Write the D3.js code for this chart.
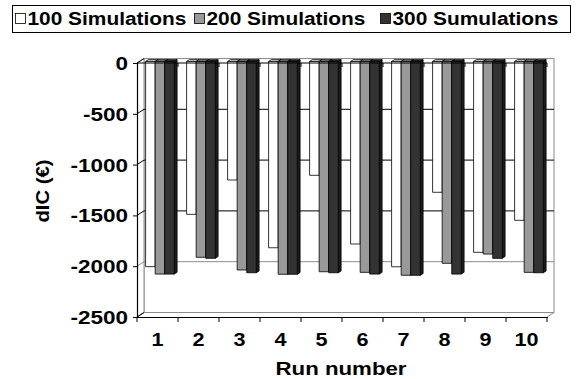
<!DOCTYPE html>
<html>
<head>
<meta charset="utf-8">
<script src="https://cdn.jsdelivr.net/npm/d3@7/dist/d3.min.js"></script>
<style>
  html, body { margin: 0; padding: 0; background: #fff; }
  svg { display: block; }
  text { font-family: "Liberation Sans", Arial, sans-serif; font-weight: bold; fill: #000; }
</style>
</head>
<body>
<svg id="chart" width="576" height="379"></svg>
<script>
// Run numbers on the category axis
const runs = ["1", "2", "3", "4", "5", "6", "7", "8", "9", "10"];
// Series names, shown in the legend
const seriesNames = ["100 Simulations", "200 Simulations", "300 Sumulations"];
// dIC values per run, one array per series
const sim100 = [-2020, -1505, -1167, -1834, -1121, -1797, -2021, -1288, -1879, -1564];
const sim200 = [-2093, -1928, -2053, -2095, -2070, -2076, -2105, -1987, -1896, -2076];
const sim300 = [-2093, -1938, -2080, -2095, -2080, -2093, -2105, -2093, -1938, -2080];
// Value axis ticks
const yTicks = [0, -500, -1000, -1500, -2000, -2500];
const yTickLabels = ["0", "-500", "-1000", "-1500", "-2000", "-2500"];

(function () {
const seriesValues = [sim100, sim200, sim300];
const fills = ["#ffffff", "#999999", "#333333"];
const sideFills = ["#d9d9d9", "#707070", "#1c1c1c"];
const topFills = ["#e6e6e6", "#808080", "#262626"];

const svg = d3.select("#chart");

// front plane of the 3-D box
const boxL = 137, boxR = 547, boxT = 63, boxB = 317;
// offset from front plane to back wall
const DX = 7, DY = -4.5;
// depth slab occupied by the columns (fraction of box depth)
const Z0 = 0.35, Z1 = 0.75;

const y = d3.scaleLinear().domain([-2500, 0]).range([boxB, boxT]);
const x0 = d3.scaleBand().domain(runs).range([boxL, boxR]).padding(0);
const bw = x0.bandwidth();
const gap = bw * 0.15;
const x1 = d3.scaleBand().domain(seriesNames).range([gap, bw - gap]).padding(0);

// ---- walls ----
const walls = svg.append("g");
// back wall
walls.append("rect")
  .attr("x", boxL + DX).attr("y", boxT + DY)
  .attr("width", boxR - boxL).attr("height", boxB - boxT)
  .attr("fill", "#fff").attr("stroke", "#8c8c8c").attr("stroke-width", 1);
// side wall outline
walls.append("path")
  .attr("d", `M${boxL},${boxT}L${boxL + DX},${boxT + DY}L${boxL + DX},${boxB + DY}L${boxL},${boxB}`)
  .attr("fill", "#fff").attr("stroke", "#8c8c8c").attr("stroke-width", 1);
// floor outline
walls.append("path")
  .attr("d", `M${boxL},${boxB}L${boxL + DX},${boxB + DY}L${boxR + DX},${boxB + DY}L${boxR},${boxB}`)
  .attr("fill", "none").attr("stroke", "#8c8c8c").attr("stroke-width", 1);

// gridlines on back and side walls
const grid = svg.append("g");
yTicks.filter(v => v !== 0 && v !== -2500).forEach(v => {
  const yy = y(v);
  const col = v === -2000 ? "#8c8c8c" : "#000";
  grid.append("path")
    .attr("d", `M${boxL},${yy}L${boxL + DX},${yy + DY}L${boxR + DX},${yy + DY}`)
    .attr("fill", "none").attr("stroke", col).attr("stroke-width", 1);
});
grid.append("path")
  .attr("d", `M${boxL},${y(-2500)}L${boxL + DX},${y(-2500) + DY}`)
  .attr("fill", "none").attr("stroke", "#000").attr("stroke-width", 1);

// ---- columns ----
const bars = svg.append("g");
const ox = DX * Z0, oy = DY * Z0;
const ddx = DX * (Z1 - Z0), ddy = DY * (Z1 - Z0);
runs.forEach((r, i) => {
  seriesNames.forEach((s, k) => {
    const v = seriesValues[k][i];
    const xl = x0(r) + x1(s) + ox;
    const xr = xl + x1.bandwidth();
    const yt = y(0) + oy;
    const yb = y(v) + oy;
    const g = bars.append("g").attr("stroke", "#000").attr("stroke-width", 0.8).attr("stroke-linejoin", "round");
    g.append("path")
      .attr("d", `M${xr},${yt}L${xr + ddx},${yt + ddy}L${xr + ddx},${yb + ddy}L${xr},${yb}Z`)
      .attr("fill", sideFills[k]);
    g.append("path")
      .attr("d", `M${xl},${yt}L${xl + ddx},${yt + ddy}L${xr + ddx},${yt + ddy}L${xr},${yt}Z`)
      .attr("fill", topFills[k]);
    g.append("rect")
      .attr("x", xl).attr("y", yt).attr("width", xr - xl).attr("height", yb - yt)
      .attr("fill", fills[k]);
  });
});

// ---- axes ----
// category axis line at zero with boundary ticks
const zeroAxis = svg.append("g");
zeroAxis.append("line")
  .attr("x1", boxL).attr("x2", boxR).attr("y1", y(0)).attr("y2", y(0))
  .attr("stroke", "#000").attr("stroke-width", 1.2);
zeroAxis.append("line")
  .attr("x1", boxL).attr("x2", boxL + DX).attr("y1", y(0)).attr("y2", y(0) + DY)
  .attr("stroke", "#000").attr("stroke-width", 1);
runs.forEach(r => {
  const xx = x0(r) + bw;
  zeroAxis.append("line")
    .attr("x1", xx).attr("x2", xx).attr("y1", y(0)).attr("y2", y(0) + 4)
    .attr("stroke", "#000").attr("stroke-width", 1);
});

// bottom category axis with labels
const xAxis = svg.append("g")
  .attr("transform", `translate(0,${boxB})`)
  .call(d3.axisBottom(x0).tickSize(0).tickPadding(0));
xAxis.select(".domain").attr("stroke", "#000").attr("stroke-width", 1.2);
xAxis.selectAll(".tick text")
  .attr("y", 0).attr("dy", null)
  .attr("transform", "translate(0,28.5) scale(1.2,1)")
  .style("font-size", "18px");
// boundary ticks on the bottom axis
x0.domain().forEach((r, i) => {
  const edges = i === 0 ? [x0(r), x0(r) + bw] : [x0(r) + bw];
  edges.forEach(xx => {
    svg.append("line")
      .attr("x1", xx).attr("x2", xx).attr("y1", boxB).attr("y2", boxB + 5)
      .attr("stroke", "#000").attr("stroke-width", 1);
  });
});

// value axis
const yAxis = svg.append("g")
  .attr("transform", `translate(${boxL},0)`)
  .call(d3.axisLeft(y).tickValues(yTicks).tickSize(4)
    .tickFormat((d, i) => yTickLabels[i]));
yAxis.select(".domain").attr("stroke", "#000").attr("stroke-width", 1.2);
yAxis.selectAll(".tick line").attr("stroke", "#000");
yAxis.selectAll(".tick text")
  .attr("x", 0).attr("dy", null).attr("y", 0)
  .attr("transform", "translate(-9,6.5) scale(1.25,1)")
  .style("font-size", "18px");

// axis titles
svg.append("text")
  .attr("x", 341).attr("y", 375)
  .attr("text-anchor", "middle")
  .style("font-size", "18px")
  .attr("textLength", 131).attr("lengthAdjust", "spacingAndGlyphs")
  .text("Run number");
svg.append("text")
  .attr("transform", "translate(49,191) rotate(-90)")
  .attr("text-anchor", "middle")
  .style("font-size", "18px")
  .attr("textLength", 63).attr("lengthAdjust", "spacingAndGlyphs")
  .text("dIC (€)");

// ---- legend ----
const legend = svg.append("g");
legend.append("rect")
  .attr("x", 12.5).attr("y", 5.5).attr("width", 558).attr("height", 27)
  .attr("fill", "#fff").attr("stroke", "#000").attr("stroke-width", 1);
const legendX = [15, 194, 380];
seriesNames.forEach((s, k) => {
  const g = legend.append("g").attr("transform", `translate(${legendX[k]},0)`);
  g.append("rect")
    .attr("x", 0.5).attr("y", 13.5).attr("width", 10).attr("height", 10)
    .attr("fill", fills[k]).attr("stroke", "#000").attr("stroke-width", 0.8);
  g.append("text")
    .attr("transform", "translate(12.5,25) scale(1.16,1)")
    .style("font-size", "18px")
    .text(s);
});
})();
</script>
</body>
</html>
